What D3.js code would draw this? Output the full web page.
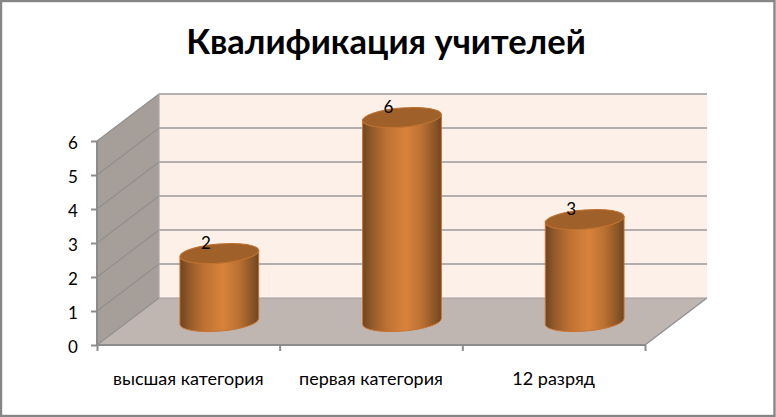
<!DOCTYPE html>
<html><head><meta charset="utf-8">
<script src="https://cdn.jsdelivr.net/npm/d3@7"></script>
<style>html,body{margin:0;padding:0;background:#fff}svg{display:block}text{font-family:Lato,"Open Sans",sans-serif;fill:#000}</style>
</head><body><svg id="c" width="776" height="417"></svg>
<script>
const title = "Квалификация учителей";
const categories = ["высшая категория","первая категория","12 разряд"];
const values = [2,6,3];
const yTicks = [0,1,2,3,4,5,6];

const svg = d3.select("#c");
const W=776,H=417;
const x = d3.scaleBand().domain(categories).range([97,645]);
const y = d3.scaleLinear().domain([0,6]).range([345,141]);
const depthX=62, depthY=-47;
const pts = a=>a.map(p=>p.join(",")).join(" ");

svg.append("rect").attr("x",1).attr("y",1).attr("width",W-2.5).attr("height",H-2)
  .attr("fill","#fff").attr("stroke","#868686").attr("stroke-width",2.4);

const defs=svg.append("defs");
const g=defs.append("linearGradient").attr("id","cyl");
[[0,"#6f4521"],[0.12,"#935a29"],[0.3,"#bd7132"],[0.55,"#d8833c"],[0.75,"#bb7032"],[0.92,"#8a5526"],[1,"#6f4521"]]
  .forEach(s=>g.append("stop").attr("offset",s[0]).attr("stop-color",s[1]));

const x0=x.range()[0], x1=x.range()[1], y0=y(0), y6=y(6);
svg.append("polygon").attr("fill","#fdf0e9")
  .attr("points",pts([[x0+depthX,y0+depthY],[x1+depthX,y0+depthY],[x1+depthX,y6+depthY],[x0+depthX,y6+depthY]]));
svg.append("polygon").attr("fill","#a69e99")
  .attr("points",pts([[x0,y0],[x0+depthX,y0+depthY],[x0+depthX,y6+depthY],[x0,y6]]));
svg.append("polygon").attr("fill","#bfb5b1")
  .attr("points",pts([[x0,y0],[x0+depthX,y0+depthY],[x1+depthX,y0+depthY],[x1,y0]]));

// gridlines on the walls
yTicks.forEach(t=>{
  const Y=y(t);
  if(t>0) svg.append("line").attr("x1",x0+depthX).attr("x2",x1+depthX).attr("y1",Y+depthY).attr("y2",Y+depthY)
    .attr("stroke","#9a9a9a").attr("stroke-width",1.6);
  svg.append("line").attr("x1",x0).attr("x2",x0+depthX).attr("y1",Y).attr("y2",Y+depthY)
    .attr("stroke","#8f8f8f").attr("stroke-width",1.1);
});
svg.append("line").attr("x1",x0+depthX).attr("x2",x0+depthX).attr("y1",y0+depthY).attr("y2",y6+depthY).attr("stroke","#a8a8a8").attr("stroke-width",1.2);
svg.append("line").attr("x1",x1).attr("x2",x1+depthX).attr("y1",y0).attr("y2",y0+depthY).attr("stroke","#8f8f8f").attr("stroke-width",1.2);
svg.append("line").attr("x1",x0+depthX).attr("x2",x1+depthX).attr("y1",y0+depthY).attr("y2",y0+depthY).attr("stroke","#a0a0a0").attr("stroke-width",1);

// axes
const yAxis=d3.axisLeft(y).tickValues(yTicks).tickSize(6).tickPadding(18).tickFormat(d3.format("d"));
const ga=svg.append("g").attr("transform",`translate(${x0},0)`).call(yAxis);
ga.selectAll("text").attr("font-size",17).attr("text-anchor","middle").attr("dy","0.42em");
const xAxis=d3.axisBottom(d3.scaleLinear().domain([0,3]).range([x0,x1])).tickValues([0,1,2,3]).tickSize(6).tickFormat("");
const gb=svg.append("g").attr("transform",`translate(0,${y0})`).call(xAxis);
[ga,gb].forEach(s=>{s.selectAll("path,line").attr("stroke","#8c8c8c").attr("stroke-width",2);s.select(".domain").attr("d",s===ga?`M0,${y6}V${y0}`:`M${x0},0H${x1}`);});

// cylinders
const rx=39.5,ry=9.6,rot=-4.5,rad=rot*Math.PI/180;
const ex=rx*Math.cos(rad), ey=rx*Math.sin(rad);
const bars=svg.append("g").selectAll("g").data(categories.map((c,i)=>({c,v:values[i]}))).join("g");
const cx=d=>x(d.c)+x.bandwidth()/2+depthX/2;
const baseY=()=>y(0)+depthY/2;
const topY=d=>y(d.v)+depthY/2;
bars.append("path").attr("fill","url(#cyl)").attr("stroke","#c8722f").attr("stroke-width",1)
  .attr("d",d=>`M${cx(d)-ex},${topY(d)-ey}L${cx(d)-ex},${baseY()-ey}A${rx},${ry} ${rot} 0 0 ${cx(d)+ex},${baseY()+ey}L${cx(d)+ex},${topY(d)+ey}A${rx},${ry} ${rot} 0 1 ${cx(d)-ex},${topY(d)-ey}Z`);
bars.append("ellipse").attr("rx",rx).attr("ry",ry).attr("fill","#9f602a").attr("stroke","#c0702f").attr("stroke-width",1)
  .attr("transform",d=>`translate(${cx(d)},${topY(d)}) rotate(${rot})`);
bars.append("text").attr("x",d=>cx(d)-13.5).attr("y",d=>topY(d)-5).attr("text-anchor","middle").attr("font-size",17).text(d=>d.v);

// category labels
svg.append("g").selectAll("text").data(categories).join("text")
  .attr("x",d=>x(d)+x.bandwidth()/2).attr("y",385).attr("text-anchor","middle").attr("font-size",18).text(d=>d);

svg.append("text").attr("x",386).attr("y",54).attr("text-anchor","middle")
  .attr("font-size",34.5).attr("font-weight",700).text(title);
</script></body></html>
